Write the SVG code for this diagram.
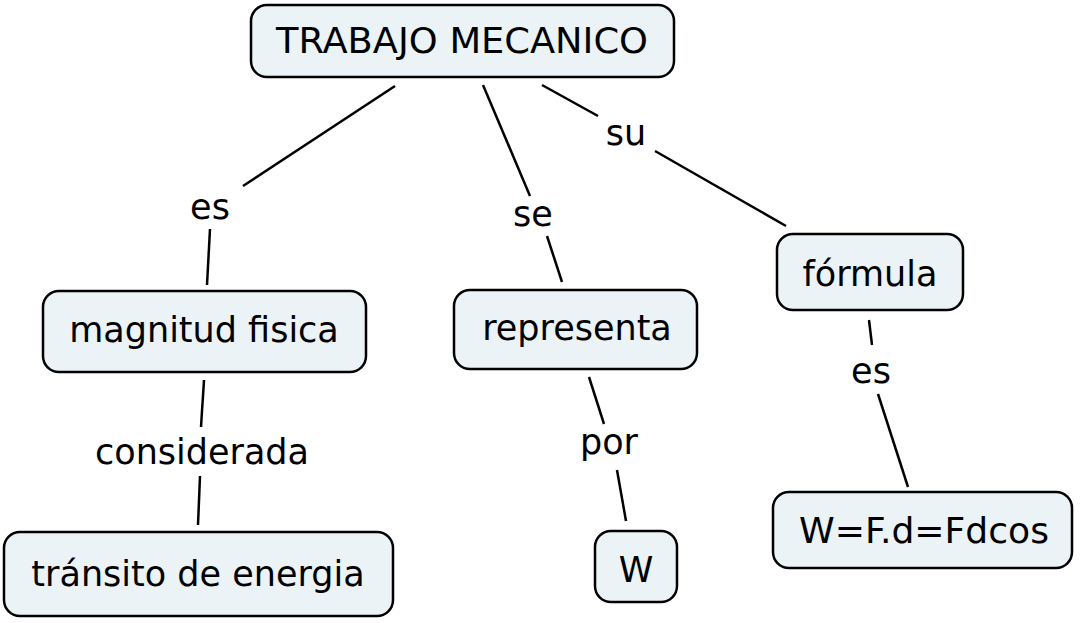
<svg xmlns="http://www.w3.org/2000/svg" width="1081" height="623" viewBox="0 0 1081 623">
<style>
.box{fill:#EBF3F6;stroke:#000;stroke-width:2.5}
.t{font-family:"DejaVu Sans",Verdana,sans-serif;font-size:35px;fill:#000;text-anchor:middle}
.c line{stroke:#000;stroke-width:2.5;stroke-linecap:butt}
</style>
<rect width="1081" height="623" fill="#fff"/>
<g id="connectors" class="c">
<line x1="395" y1="86" x2="243" y2="186"/>
<line x1="210" y1="229" x2="207" y2="285"/>
<line x1="483" y1="85" x2="530" y2="196"/>
<line x1="547" y1="236" x2="562" y2="282"/>
<line x1="542" y1="85" x2="598" y2="116"/>
<line x1="655" y1="151" x2="786" y2="226"/>
<line x1="204" y1="380" x2="201" y2="427"/>
<line x1="200" y1="476" x2="198" y2="525"/>
<line x1="589" y1="377" x2="604" y2="424"/>
<line x1="617" y1="470" x2="626" y2="521"/>
<line x1="869" y1="320" x2="872" y2="345"/>
<line x1="878" y1="394" x2="908" y2="487"/>
</g>
<g id="labels">
<text class="t" x="210" y="219">es</text>
<text class="t" x="533" y="226">se</text>
<text class="t" x="626" y="145">su</text>
<text class="t" x="202" y="464">considerada</text>
<text class="t" x="609" y="454">por</text>
<text class="t" x="871" y="383">es</text>
</g>
<g id="n-trabajo"><rect class="box" x="251" y="5" width="423" height="72" rx="16"/><text class="t" x="462" y="53" textLength="372" lengthAdjust="spacingAndGlyphs">TRABAJO MECANICO</text></g>
<g id="n-magnitud"><rect class="box" x="43" y="291" width="323" height="81" rx="16"/><text class="t" x="204" y="342">magnitud fisica</text></g>
<g id="n-transito"><rect class="box" x="4" y="532" width="389" height="84" rx="16"/><text class="t" x="198" y="586">tránsito de energia</text></g>
<g id="n-representa"><rect class="box" x="454" y="290" width="243" height="79" rx="16"/><text class="t" x="577" y="340">representa</text></g>
<g id="n-w"><rect class="box" x="595" y="531" width="82" height="71" rx="16"/><text class="t" x="636" y="582">W</text></g>
<g id="n-formula"><rect class="box" x="777" y="234" width="186" height="76" rx="16"/><text class="t" x="870" y="286">fórmula</text></g>
<g id="n-ecuacion"><rect class="box" x="773" y="492" width="299" height="76" rx="16"/><text class="t" x="924" y="543" textLength="250" lengthAdjust="spacingAndGlyphs">W=F.d=Fdcos</text></g>
</svg>
